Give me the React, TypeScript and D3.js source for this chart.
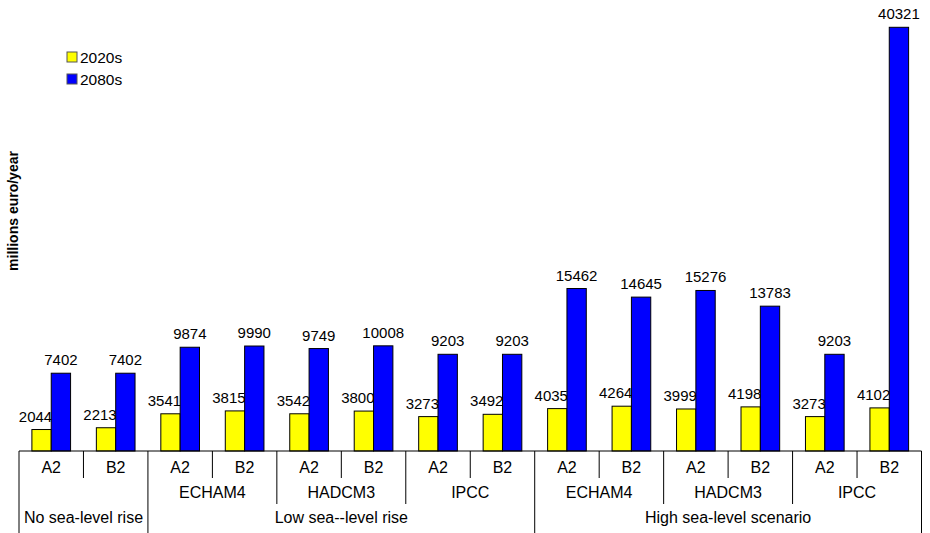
import React from "react";
import * as d3 from "d3";

const categories = ["A2", "B2", "A2", "B2", "A2", "B2", "A2", "B2", "A2", "B2", "A2", "B2", "A2", "B2"];
const models = [
  { name: "", start: 0, span: 2 },
  { name: "ECHAM4", start: 2, span: 2 },
  { name: "HADCM3", start: 4, span: 2 },
  { name: "IPCC", start: 6, span: 2 },
  { name: "ECHAM4", start: 8, span: 2 },
  { name: "HADCM3", start: 10, span: 2 },
  { name: "IPCC", start: 12, span: 2 },
];
const scenarios = [
  { name: "No sea-level rise", start: 0, span: 2 },
  { name: "Low sea--level rise", start: 2, span: 6 },
  { name: "High sea-level scenario", start: 8, span: 6 },
];
const values2020s = [2044, 2213, 3541, 3815, 3542, 3800, 3273, 3492, 4035, 4264, 3999, 4198, 3273, 4102];
const values2080s = [7402, 7402, 9874, 9990, 9749, 10008, 9203, 9203, 15462, 14645, 15276, 13783, 9203, 40321];
const seriesNames = ["2020s", "2080s"];
const seriesColors = ["#FFFF00", "#0000FF"];

const W = 930;
const H = 533;
const x0 = 19;
const x1 = 921.5;
const baseY = 451;
const topY = 27.3;
const FONT = "Arial, 'Liberation Sans', Helvetica, sans-serif";

export default function App() {
  const x = d3.scaleBand<number>().domain(d3.range(categories.length)).range([x0, x1]).paddingInner(0).paddingOuter(0);
  const w = x.bandwidth();
  const y = d3.scaleLinear().domain([0, 40321]).range([baseY, topY]);
  const bw = w * 0.3;
  const off = w * 0.2;

  const tier1Y = 478;
  const tier2Y = 504;
  const bottomY = 533;

  const lines: { x: number; y2: number }[] = [];
  for (let i = 0; i <= categories.length; i++) {
    const xx = x0 + i * w;
    let y2 = tier1Y;
    if (models.some((m) => m.start === i) || i === categories.length) y2 = tier2Y;
    if (scenarios.some((s) => s.start === i) || i === categories.length) y2 = bottomY;
    lines.push({ x: xx, y2 });
  }

  return (
    <svg width={W} height={H} style={{ position: "absolute", left: 0, top: 0, background: "#fff" }} fontFamily={FONT}>
      {values2020s.map((v, i) => (
        <rect key={"a" + i} x={(x(i) as number) + off} y={y(v)} width={bw} height={baseY - y(v)} fill={seriesColors[0]} stroke="#000" strokeWidth={1} />
      ))}
      {values2020s.map((v, i) => (
        <text key={"la" + i} x={(x(i) as number) + off + bw + 1} y={y(v) - 8} textAnchor="end" fontSize={15} fill="#000">
          {v}
        </text>
      ))}
      {values2080s.map((v, i) => (
        <rect key={"b" + i} x={(x(i) as number) + off + bw} y={y(v)} width={bw} height={baseY - y(v)} fill={seriesColors[1]} stroke="#000" strokeWidth={1} />
      ))}
      {values2080s.map((v, i) => (
        <text key={"lb" + i} x={(x(i) as number) + off + bw * 1.5} y={y(v) - 8} textAnchor="middle" fontSize={15} fill="#000">
          {v}
        </text>
      ))}
      <line x1={x0} x2={x1} y1={baseY} y2={baseY} stroke="#000" strokeWidth={1} />
      {lines.map((l, i) => (
        <line key={"d" + i} x1={l.x} x2={l.x} y1={baseY} y2={l.y2} stroke="#000" strokeWidth={1} />
      ))}
      {categories.map((c, i) => (
        <text key={"c" + i} x={(x(i) as number) + w / 2} y={473} textAnchor="middle" fontSize={16} fill="#000">
          {c}
        </text>
      ))}
      {models.map((m, i) => (
        <text key={"m" + i} x={x0 + (m.start + m.span / 2) * w} y={498} textAnchor="middle" fontSize={16} fill="#000">
          {m.name}
        </text>
      ))}
      {scenarios.map((s, i) => (
        <text key={"s" + i} x={x0 + (s.start + s.span / 2) * w} y={523} textAnchor="middle" fontSize={16} fill="#000">
          {s.name}
        </text>
      ))}
      <text transform={`translate(18,211) rotate(-90)`} textAnchor="middle" fontSize={14} fontWeight="bold" fill="#000">
        millions euro/year
      </text>
      {seriesNames.map((n, i) => (
        <g key={"lg" + i} transform={`translate(67,${52 + i * 22})`}>
          <rect x={0} y={0} width={10} height={10} fill={seriesColors[i]} stroke="#555" strokeWidth={1} />
          <text x={13} y={10.5} fontSize={15.5} fill="#000">
            {n}
          </text>
        </g>
      ))}
    </svg>
  );
}
